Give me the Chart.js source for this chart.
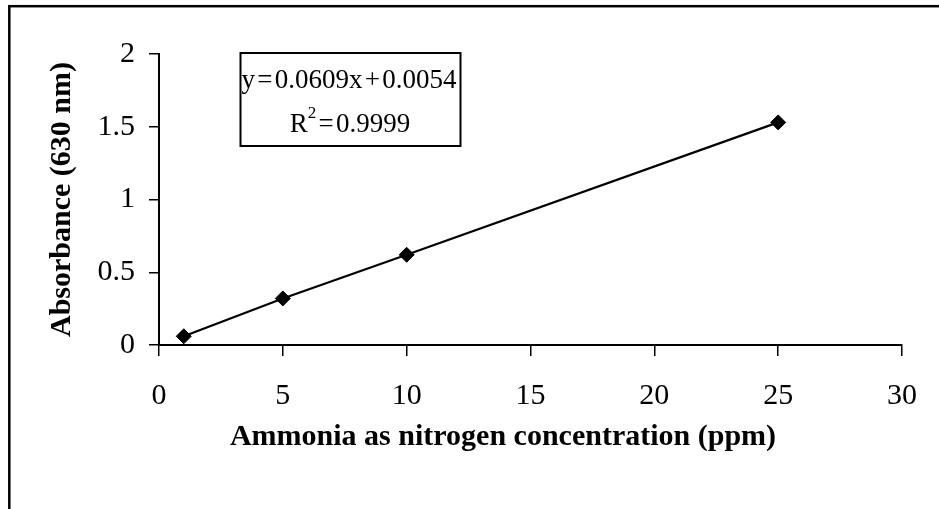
<!DOCTYPE html>
<html>
<head>
<meta charset="utf-8">
<script src="https://cdn.jsdelivr.net/npm/chart.js@4"></script>
<style>
	html, body { margin: 0; padding: 0; background: #fff; }
</style>
</head>
<body>
<canvas id="calib-chart" width="939" height="509"></canvas>
<script>
// ── Data ─────────────────────────────────────────────────
const concentrations = [ 1, 5, 10, 25 ]; // ppm
const absorbances = [ 0.06, 0.32, 0.62, 1.53 ]; // 630 nm
const xTickValues = [ 0, 5, 10, 15, 20, 25, 30 ];
const yTickValues = [ 0, 0.5, 1, 1.5, 2 ];
const equationText = 'y = 0.0609x + 0.0054';
const rSquaredText = ' = 0.9999';
const xTitle = 'Ammonia as nitrogen concentration (ppm)';

( function () {
	'use strict';

	const palette = {
		ink: '#000000',
		paper: '#ffffff',
	};
	const serif = '"Liberation Serif", "Times New Roman", serif';

	// tight operator spacing like the Excel trendline label
	const tighten = ( s ) => s.replace( / ([=+]) /g, '\u200a$1\u200a' );

	// frame round the whole figure, x title, trendline equation box
	const decorPlugin = {
		id: 'decor',
		afterDraw( chart ) {
			const { ctx } = chart;
			ctx.save();
			ctx.strokeStyle = palette.ink;
			ctx.lineWidth = 2.5;
			ctx.strokeRect( 9.3, 6.2, 1200, 1200 );

			ctx.fillStyle = palette.ink;
			ctx.textBaseline = 'alphabetic';
			ctx.textAlign = 'center';
			ctx.font = `bold 30px ${ serif }`;
			ctx.fillText( xTitle, 503, 445 );

			ctx.lineWidth = 2;
			ctx.strokeRect( 240.5, 53, 220, 93 );

			ctx.font = `27px ${ serif }`;
			ctx.fillText( tighten( equationText ), 349, 88 );

			// R² line, drawn piece by piece for the superscript
			ctx.textAlign = 'left';
			const big = `27px ${ serif }`;
			const small = `17px ${ serif }`;
			const rest = tighten( rSquaredText + ' ' ).trimEnd();
			ctx.font = big;
			const wR = ctx.measureText( 'R' ).width;
			const wRest = ctx.measureText( rest ).width;
			ctx.font = small;
			const wSup = ctx.measureText( '2' ).width;
			let x = 350 - ( wR + wSup + wRest ) / 2;
			ctx.font = big;
			ctx.fillText( 'R', x, 132 );
			x += wR;
			ctx.font = small;
			ctx.fillText( '2', x, 118 );
			x += wSup;
			ctx.font = big;
			ctx.fillText( rest, x, 132 );
			ctx.restore();
		},
	};

	const setTicks = ( values ) => ( scale ) => {
		scale.ticks = values.map( ( v ) => ( { value: v } ) );
	};

	new Chart( document.getElementById( 'calib-chart' ), {
		type: 'scatter',
		data: {
			datasets: [
				{
					data: concentrations.map( ( c, i ) => ( {
						x: c,
						y: absorbances[ i ],
					} ) ),
					showLine: true,
					borderColor: palette.ink,
					borderWidth: 2.2,
					backgroundColor: palette.ink,
					pointStyle: 'rectRot',
					pointRadius: 7.5,
					pointBorderColor: palette.ink,
					pointBorderWidth: 1,
					tension: 0,
				},
			],
		},
		options: {
			responsive: false,
			animation: false,
			layout: { padding: { left: 0, top: 54, right: 33, bottom: 0 } },
			plugins: {
				legend: { display: false },
				tooltip: { enabled: false },
			},
			scales: {
				x: {
					type: 'linear',
					min: 0,
					max: 30,
					afterBuildTicks: setTicks( xTickValues ),
					afterFit: ( scale ) => {
						scale.height = 164;
					},
					grid: {
						drawOnChartArea: false,
						drawTicks: true,
						tickLength: 11,
						color: palette.ink,
						lineWidth: 1.5,
					},
					border: { color: palette.ink, width: 2 },
					ticks: {
						color: palette.ink,
						font: { family: serif, size: 30 },
						padding: 22,
						maxRotation: 0,
						callback: ( v ) => String( v ),
					},
				},
				y: {
					min: 0,
					max: 2,
					afterBuildTicks: setTicks( yTickValues ),
					afterFit: ( scale ) => {
						scale.width = 159;
					},
					grid: {
						drawOnChartArea: false,
						drawTicks: true,
						tickLength: 10,
						color: palette.ink,
						lineWidth: 1.5,
					},
					border: { color: palette.ink, width: 2 },
					ticks: {
						color: palette.ink,
						font: { family: serif, size: 30 },
						padding: 14,
						callback: ( v ) => String( v ),
					},
					title: {
						display: true,
						text: 'Absorbance (630 nm)',
						color: palette.ink,
						font: { family: serif, size: 30, weight: 'bold' },
						padding: { top: 44, bottom: 0 },
					},
				},
			},
		},
		plugins: [ decorPlugin ],
	} );
} )();
</script>
</body>
</html>
